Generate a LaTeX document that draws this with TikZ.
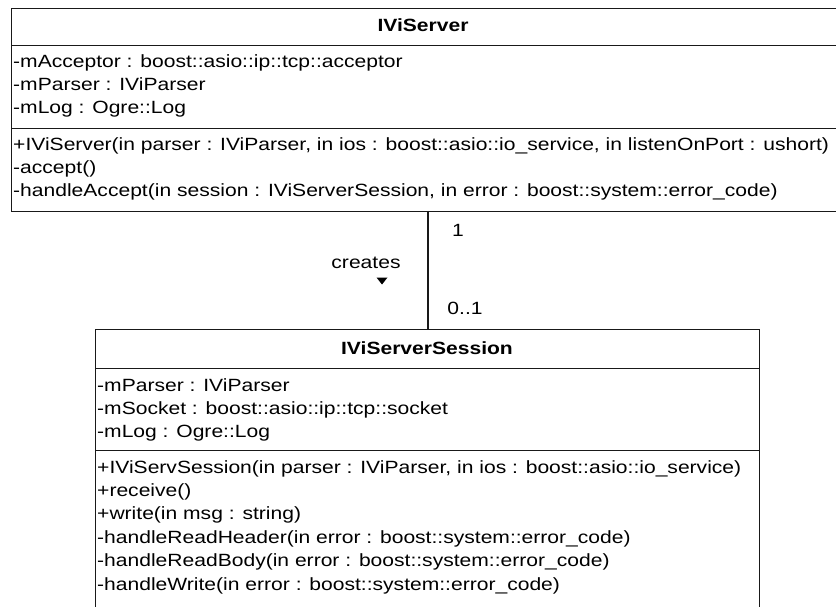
\documentclass[tikz,border=0pt]{standalone}
\usepackage{fontspec}
\setmainfont[FakeStretch=1.19]{Liberation Sans}
\begin{document}
\begin{tikzpicture}[x=1bp,y=-1bp,
  frame/.style={draw=black!90, line width=1.3bp, rectangle, inner sep=0pt, anchor=north west},
  member/.style={anchor=base west, inner sep=0pt, font=\fontsize{17.7bp}{20bp}\selectfont},
  title/.style={anchor=base, inner sep=0pt, font=\fontsize{17.7bp}{20bp}\selectfont\bfseries},
  mult/.style={inner sep=0pt, font=\fontsize{17.7bp}{20bp}\selectfont},
  conn/.style={draw=black!90, line width=1.3bp}]
\useasboundingbox (0,0) rectangle (836,607);
\clip (0,0) rectangle (836,607);

% ---- class IViServer ----
\node[frame, minimum width=826bp, minimum height=37bp]  (srvHead) at (11,8) {};
\node[frame, minimum width=826bp, minimum height=83bp]  (srvAttr) at (11,45) {};
\node[frame, minimum width=826bp, minimum height=83bp]  (srvOps)  at (11,128) {};
\node[title] (srvName) at (423,32) {IViServer};
\node[member] (srvA1) at (13,68)  {-mAcceptor : boost::asio::ip::tcp::acceptor};
\node[member] (srvA2) at (13,91)  {-mParser : IViParser};
\node[member] (srvA3) at (13,114) {-mLog : Ogre::Log};
\node[member] (srvO1) at (13,151) {+IViServer(in parser : IViParser, in ios : boost::asio::io\_service, in listenOnPort : ushort)};
\node[member] (srvO2) at (13,174) {-accept()};
\node[member] (srvO3) at (13,197) {-handleAccept(in session : IViServerSession, in error : boost::system::error\_code)};

% ---- class IViServerSession ----
\node[frame, minimum width=664bp, minimum height=39bp]  (sesHead) at (95,329) {};
\node[frame, minimum width=664bp, minimum height=82bp]  (sesAttr) at (95,368) {};
\node[frame, minimum width=664bp, minimum height=170bp] (sesOps)  at (95,450) {};
\node[title] (sesName) at (427,354) {IViServerSession};
\node[member] (sesA1) at (97,391) {-mParser : IViParser};
\node[member] (sesA2) at (97,414) {-mSocket : boost::asio::ip::tcp::socket};
\node[member] (sesA3) at (97,437) {-mLog : Ogre::Log};
\node[member] (sesO1) at (97,473)   {+IViServSession(in parser : IViParser, in ios : boost::asio::io\_service)};
\node[member] (sesO2) at (97,496.4) {+receive()};
\node[member] (sesO3) at (97,519.8) {+write(in msg : string)};
\node[member] (sesO4) at (97,543.2) {-handleReadHeader(in error : boost::system::error\_code)};
\node[member] (sesO5) at (97,566.6) {-handleReadBody(in error : boost::system::error\_code)};
\node[member] (sesO6) at (97,590)   {-handleWrite(in error : boost::system::error\_code)};

% ---- association "creates" ----
\coordinate (assocTop) at (428,211);
\coordinate (assocBot) at (428,329);
\draw[conn] (assocTop) -- (assocBot);
\node[mult] (mTop) at (458,230) {1};
\node[mult] (mBot) at (465,308) {0..1};
\node[mult] (assocName) at (366,263) {creates};
\fill[black] (376.5,277.5) -- (387.5,277.5) -- (382,284.5) -- cycle;
\end{tikzpicture}
\end{document}
